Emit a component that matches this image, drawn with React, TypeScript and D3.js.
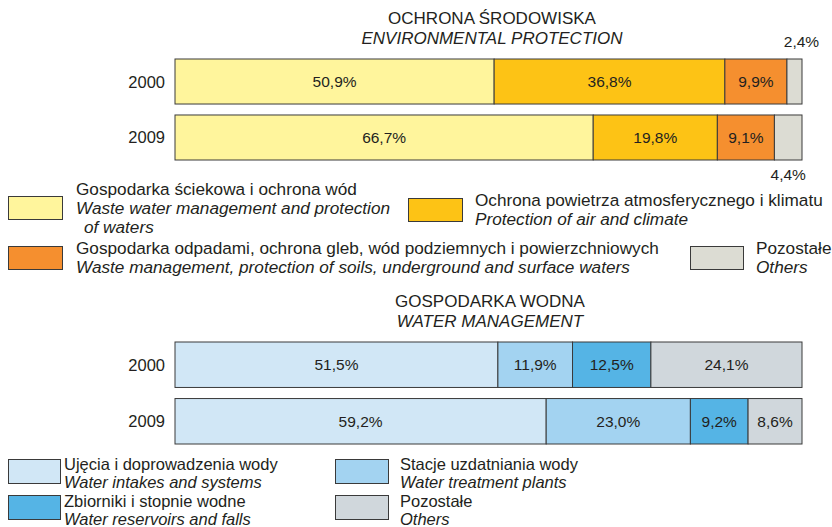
import * as d3 from "d3";

const width = 832;
const height = 527;
const marginLeft = 175;
const marginRight = 30;

const years = ["2000", "2009"];

// Ochrona środowiska / Environmental protection
const envColors = ["#fff59c", "#fdc315", "#f58f2f", "#dcdcd3"];
const env2000 = [50.9, 36.8, 9.9, 2.4];
const env2009 = [66.7, 19.8, 9.1, 4.4];

// Gospodarka wodna / Water management
const waterColors = ["#d1e7f6", "#a3d3f1", "#55b4e5", "#d0d7dc"];
const water2000 = [51.5, 11.9, 12.5, 24.1];
const water2009 = [59.2, 23.0, 9.2, 8.6];

const fmt = (v: number) => v.toFixed(1).replace(".", ",") + "%";

const font = "'Liberation Sans', Arial, Helvetica, sans-serif";
const textColor = "#231f20";

const xScale = d3
  .scaleLinear()
  .domain([0, 100])
  .range([marginLeft, width - marginRight]);

type Row = { year: string; values: number[] };

const BarGroup = ({
  rows,
  colors,
  top,
  bottom,
  outsideLabels,
}: {
  rows: Row[];
  colors: string[];
  top: number;
  bottom: number;
  outsideLabels?: boolean;
}) => {
  const yScale = d3
    .scaleBand()
    .domain(rows.map((r) => r.year))
    .range([top, bottom])
    .paddingInner(0.196);
  const bw = yScale.bandwidth();

  return (
    <g>
      {rows.map((r, ri) => {
        const y = yScale(r.year) as number;
        const ends = d3.cumsum(r.values);
        return (
          <g key={r.year}>
            <text
              x={marginLeft - 10}
              y={y + bw / 2 + 6}
              textAnchor="end"
              fontSize={16.5}
              fill={textColor}
            >
              {r.year}
            </text>
            {r.values.map((v, i) => {
              const x0 = xScale(ends[i] - v);
              const x1 = xScale(ends[i]);
              const small = x1 - x0 < 30;
              return (
                <g key={i}>
                  <rect
                    x={x0}
                    y={y}
                    width={x1 - x0}
                    height={bw}
                    fill={colors[i]}
                    stroke="#3a3a3a"
                    strokeWidth={1}
                  />
                  {small && outsideLabels ? (
                    <text
                      x={(x0 + x1) / 2 + (ri === 0 ? 7 : 0)}
                      y={ri === 0 ? y - 12 : y + bw + 20}
                      textAnchor="middle"
                      fontSize={15.5}
                      fill={textColor}
                    >
                      {fmt(v)}
                    </text>
                  ) : (
                    <text
                      x={(x0 + x1) / 2}
                      y={y + bw / 2 + 5.5}
                      textAnchor="middle"
                      fontSize={15.5}
                      fill={textColor}
                    >
                      {fmt(v)}
                    </text>
                  )}
                </g>
              );
            })}
          </g>
        );
      })}
    </g>
  );
};

const Swatch = ({ x, y, w, h, fill }: { x: number; y: number; w: number; h: number; fill: string }) => (
  <rect x={x} y={y} width={w} height={h} fill={fill} stroke="#3a3a3a" strokeWidth={1} />
);

const App = () => {
  const envRows: Row[] = [
    { year: years[0], values: env2000 },
    { year: years[1], values: env2009 },
  ];
  const waterRows: Row[] = [
    { year: years[0], values: water2000 },
    { year: years[1], values: water2009 },
  ];

  return (
    <svg
      width={width}
      height={height}
      viewBox={`0 0 ${width} ${height}`}
      style={{ position: "absolute", left: 0, top: 0, background: "#fff" }}
      fontFamily={font}
    >
      {/* Title 1 */}
      <text x={492} y={24} textAnchor="middle" fontSize={17} fill={textColor}>
        OCHRONA ŚRODOWISKA
      </text>
      <text x={492} y={44} textAnchor="middle" fontSize={17} fontStyle="italic" fill={textColor}>
        ENVIRONMENTAL PROTECTION
      </text>
      <BarGroup rows={envRows} colors={envColors} top={59} bottom={160} outsideLabels />

      {/* Legend 1 */}
      <g fontSize={17.2} fill={textColor}>
        <Swatch x={8.5} y={196.5} w={54} h={23} fill={envColors[0]} />
        <text x={76} y={195}>Gospodarka ściekowa i ochrona wód</text>
        <text x={76} y={214} fontStyle="italic">Waste water management and protection</text>
        <text x={84} y={233} fontStyle="italic">of waters</text>

        <Swatch x={408.5} y={198.5} w={54} h={23} fill={envColors[1]} />
        <text x={475} y={206}>Ochrona powietrza atmosferycznego i klimatu</text>
        <text x={475} y={225} fontStyle="italic">Protection of air and climate</text>

        <Swatch x={8.5} y={246.5} w={54} h={23} fill={envColors[2]} />
        <text x={76} y={254}>Gospodarka odpadami, ochrona gleb, wód podziemnych i powierzchniowych</text>
        <text x={76} y={273} fontStyle="italic">Waste management, protection of soils, underground and surface waters</text>

        <Swatch x={690.5} y={246.5} w={53} h={23} fill={envColors[3]} />
        <text x={756} y={254}>Pozostałe</text>
        <text x={756} y={273} fontStyle="italic">Others</text>
      </g>

      {/* Title 2 */}
      <text x={490} y={307} textAnchor="middle" fontSize={17} fill={textColor}>
        GOSPODARKA WODNA
      </text>
      <text x={490} y={327} textAnchor="middle" fontSize={17} fontStyle="italic" fill={textColor}>
        WATER MANAGEMENT
      </text>
      <BarGroup rows={waterRows} colors={waterColors} top={342} bottom={444} />

      {/* Legend 2 */}
      <g fontSize={16.5} fill={textColor}>
        <Swatch x={8.5} y={459.5} w={52} h={24} fill={waterColors[0]} />
        <text x={64} y={470}>Ujęcia i doprowadzenia wody</text>
        <text x={64} y={488} fontStyle="italic">Water intakes and systems</text>

        <Swatch x={8.5} y={495.5} w={52} h={24} fill={waterColors[2]} />
        <text x={64} y={507}>Zbiorniki i stopnie wodne</text>
        <text x={64} y={525} fontStyle="italic">Water reservoirs and falls</text>

        <Swatch x={335.5} y={459.5} w={53} h={24} fill={waterColors[1]} />
        <text x={400} y={470}>Stacje uzdatniania wody</text>
        <text x={400} y={488} fontStyle="italic">Water treatment plants</text>

        <Swatch x={335.5} y={495.5} w={53} h={24} fill={waterColors[3]} />
        <text x={400} y={507}>Pozostałe</text>
        <text x={400} y={525} fontStyle="italic">Others</text>
      </g>
    </svg>
  );
};

export default App;
